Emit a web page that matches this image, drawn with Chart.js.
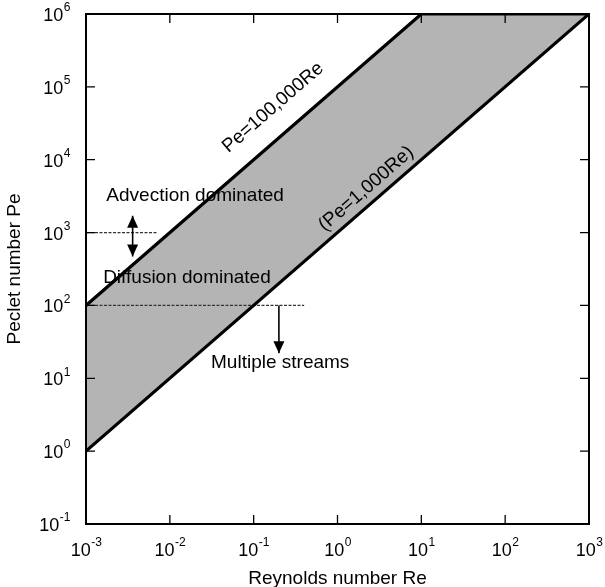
<!DOCTYPE html>
<html>
<head>
<meta charset="UTF-8">
<title>Peclet vs Reynolds</title>
<script src="https://cdn.jsdelivr.net/npm/chart.js"></script>
<style>
  body { margin: 0; background: #fff; }
  #wrap { width: 605px; height: 587px; }
</style>
</head>
<body>
<div id="wrap"><canvas id="chart" width="605" height="587"></canvas></div>
<script>
// axis ranges (decades)
const xDecades = [-3, -2, -1, 0, 1, 2, 3];
const yDecades = [-1, 0, 1, 2, 3, 4, 5, 6];

// Pe = 100,000 Re  (capped at Pe = 1e6)
const upperRe = [1e-3, 10, 1e3];
const upperPe = [1e2, 1e6, 1e6];
// Pe = 1,000 Re
const lowerRe = [1e-3, 1e3];
const lowerPe = [1, 1e6];

// dashed threshold lines
const advRe = [1e-3, 0.0072];
const advPe = [1e3, 1e3];
const multiRe = [1e-3, 0.4];
const multiPe = [100, 100];

// arrows: [Re, Pe from, Pe to, double?]
const arrowRe = [0.0036, 0.2];
const arrowPeFrom = [470, 100];
const arrowPeTo = [1700, 22];
const arrowDouble = [true, false];

// text notes: label, Re, Pe, align
const noteText = ['Advection dominated', 'Diffusion dominated', 'Multiple streams'];
const noteRe = [0.02, 0.016, 0.031];
const notePe = [3200, 240, 16.5];
const noteAlign = ['center', 'center', 'left'];

// rotated line labels
const lineText = ['Pe=100,000Re', '(Pe=1,000Re)'];
const lineRe = [0.17, 2.2];
const linePe = [5.2e4, 4.0e3];

const toPts = (xs, ys) => xs.map((x, i) => ({ x: x, y: ys[i] }));
const FONT = '"Liberation Sans", Arial, Helvetica, sans-serif';

const decor = {
  id: 'decor',
  afterDraw(chart) {
    const c = chart.ctx, a = chart.chartArea;
    const xs = chart.scales.x, ys = chart.scales.y;
    c.save();
    c.strokeStyle = '#000';
    c.fillStyle = '#000';

    // frame
    c.lineWidth = 2;
    c.strokeRect(a.left, a.top, a.right - a.left, a.bottom - a.top);

    // inward ticks on all sides
    c.lineWidth = 1.3;
    const tl = 9;
    c.beginPath();
    xDecades.forEach(d => {
      const px = xs.getPixelForValue(Math.pow(10, d));
      c.moveTo(px, a.bottom); c.lineTo(px, a.bottom - tl);
      c.moveTo(px, a.top); c.lineTo(px, a.top + tl);
    });
    yDecades.forEach(d => {
      const py = ys.getPixelForValue(Math.pow(10, d));
      c.moveTo(a.left, py); c.lineTo(a.left + tl, py);
      c.moveTo(a.right, py); c.lineTo(a.right - tl, py);
    });
    c.stroke();

    // tick labels with superscripts
    const base = '18px ' + FONT, sup = '12px ' + FONT;
    c.textBaseline = 'middle';
    const drawPow = (d, px, py, align) => {
      c.font = base;
      const w1 = c.measureText('10').width;
      c.font = sup;
      const w2 = c.measureText(String(d)).width;
      let x0 = align === 'center' ? px - (w1 + w2) / 2 : px - (w1 + w2);
      c.font = base; c.textAlign = 'left';
      c.fillText('10', x0, py);
      c.font = sup;
      c.fillText(String(d), x0 + w1 + 0.5, py - 8);
    };
    xDecades.forEach(d => drawPow(d, xs.getPixelForValue(Math.pow(10, d)), a.bottom + 27, 'center'));
    yDecades.forEach(d => drawPow(d, a.left - 16, ys.getPixelForValue(Math.pow(10, d)) + 2, 'right'));

    // axis titles
    c.font = '19px ' + FONT;
    c.textAlign = 'center';
    c.fillText('Reynolds number Re', (a.left + a.right) / 2, a.bottom + 55);
    c.save();
    c.translate(15, (a.top + a.bottom) / 2);
    c.rotate(-Math.PI / 2);
    c.fillText('Peclet number Pe', 0, 0);
    c.restore();

    // arrows
    c.lineWidth = 1.6;
    const head = (x, y, dir) => {
      c.beginPath();
      c.moveTo(x, y);
      c.lineTo(x - 5.5, y - dir * 12);
      c.lineTo(x + 5.5, y - dir * 12);
      c.closePath();
      c.fill();
    };
    arrowRe.forEach((re, i) => {
      const px = xs.getPixelForValue(re);
      const p1 = ys.getPixelForValue(arrowPeFrom[i]);
      const p2 = ys.getPixelForValue(arrowPeTo[i]);
      c.beginPath(); c.moveTo(px, p1); c.lineTo(px, p2); c.stroke();
      head(px, p2, p2 > p1 ? 1 : -1);
      if (arrowDouble[i]) head(px, p1, p1 > p2 ? 1 : -1);
    });

    // notes
    c.font = '19px ' + FONT;
    noteText.forEach((t, i) => {
      c.textAlign = noteAlign[i];
      c.fillText(t, xs.getPixelForValue(noteRe[i]), ys.getPixelForValue(notePe[i]));
    });

    // rotated line labels, angle taken from the Pe = 1000 Re line
    const ang = Math.atan2(ys.getPixelForValue(lowerPe[1]) - ys.getPixelForValue(lowerPe[0]),
                           xs.getPixelForValue(lowerRe[1]) - xs.getPixelForValue(lowerRe[0]));
    c.textAlign = 'center';
    lineText.forEach((t, i) => {
      c.save();
      c.translate(xs.getPixelForValue(lineRe[i]), ys.getPixelForValue(linePe[i]));
      c.rotate(ang);
      c.fillText(t, 0, 0);
      c.restore();
    });
    c.restore();
  }
};

new Chart(document.getElementById('chart'), {
  type: 'scatter',
  data: {
    datasets: [
      { data: toPts(upperRe, upperPe), showLine: true, borderColor: '#000', borderWidth: 3.2,
        pointRadius: 0, fill: '+1', backgroundColor: '#b4b4b4' },
      { data: toPts(lowerRe, lowerPe), showLine: true, borderColor: '#000', borderWidth: 3.2,
        pointRadius: 0, fill: false },
      { data: toPts(advRe, advPe), showLine: true, borderColor: '#333', borderWidth: 1.2,
        borderDash: [3, 1.5], pointRadius: 0, fill: false },
      { data: toPts(multiRe, multiPe), showLine: true, borderColor: '#333', borderWidth: 1.2,
        borderDash: [3, 1.5], pointRadius: 0, fill: false }
    ]
  },
  options: {
    responsive: false,
    animation: false,
    layout: { padding: { left: 86, top: 14, right: 16, bottom: 63 } },
    plugins: {
      legend: { display: false },
      tooltip: { enabled: false },
      filler: { drawTime: 'beforeDatasetsDraw' }
    },
    scales: {
      x: { type: 'logarithmic', min: 1e-3, max: 1e3, display: false },
      y: { type: 'logarithmic', min: 1e-1, max: 1e6, display: false }
    }
  },
  plugins: [decor]
});
</script>
</body>
</html>
